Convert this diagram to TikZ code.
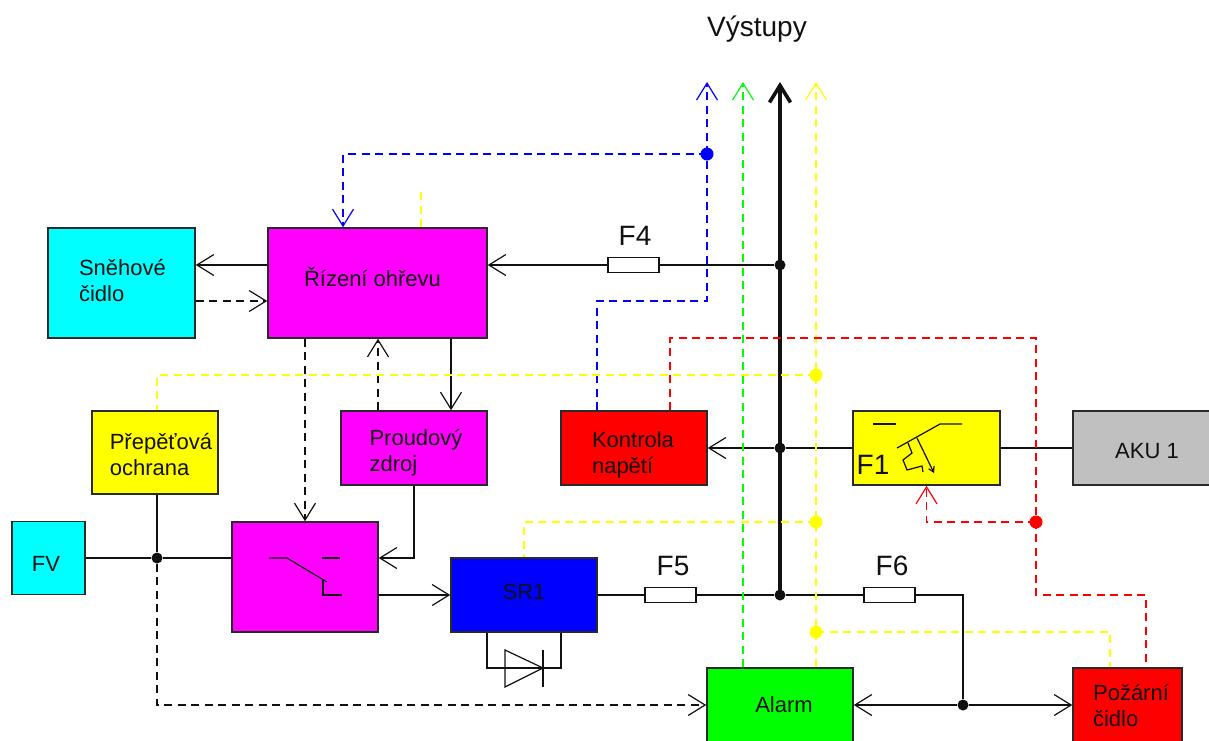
\documentclass[tikz,border=0pt]{standalone}
\usepackage{fontspec}
\setmainfont{Liberation Sans}
\usetikzlibrary{arrows.meta}
\definecolor{ink}{HTML}{111111}
\definecolor{edgeC}{HTML}{2A2A2A}
\definecolor{cyanC}{HTML}{00FFFF}
\definecolor{magC}{HTML}{FF00FF}
\definecolor{yelC}{HTML}{FFFF00}
\definecolor{redC}{HTML}{FF0000}
\definecolor{bluC}{HTML}{0000FF}
\definecolor{grnC}{HTML}{00FF00}
\definecolor{akuC}{HTML}{C0C0C0}
\tikzset{
  >={Straight Barb[length=17pt,width=21pt]},
  block/.style={draw=edgeC,line width=1.5pt,inner sep=0pt},
  blab/.style={font=\fontsize{22}{26}\selectfont,text=ink,align=left,inner sep=0pt},
  fuse/.style={draw=ink,line width=1.2pt,fill=white,minimum width=51pt,minimum height=15pt,inner sep=0pt},
  flab/.style={font=\fontsize{28}{32}\selectfont,text=ink},
  wire/.style={ink,line width=1.2pt},
  sig/.style={line width=1.2pt,dash pattern=on 8pt off 5.5pt},
  jdot/.style={circle,fill=ink,inner sep=0pt,minimum size=11pt},
  cdot/.style={circle,inner sep=0pt,minimum size=13pt},
}
\begin{document}
\begin{tikzpicture}[x=1pt,y=-1pt]
\useasboundingbox (0,0) rectangle (1209,740);

\node[flab] (Title) at (757,29) {Výstupy};

% ================= BLOCKS =================
\node[block,fill=cyanC,minimum width=147pt,minimum height=110pt] (Snow) at (121.5,283) {};
\node[block,fill=magC,minimum width=219pt,minimum height=110pt] (Ctrl) at (377.5,283) {};
\node[block,fill=yelC,minimum width=126pt,minimum height=83pt] (Surge) at (155,452.5) {};
\node[block,fill=magC,minimum width=146pt,minimum height=74pt] (Src) at (414,448) {};
\node[block,fill=redC,minimum width=146pt,minimum height=74pt] (Volt) at (634,448) {};
\node[block,fill=yelC,minimum width=147pt,minimum height=74pt] (Brk) at (926.5,448) {};
\node[block,fill=akuC,minimum width=148pt,minimum height=74pt] (Aku) at (1147,448) {};
\node[block,fill=cyanC,minimum width=73pt,minimum height=73pt] (Pv) at (48.5,558) {};
\node[block,fill=magC,minimum width=146pt,minimum height=110pt] (Sw) at (305,577) {};
\node[block,fill=bluC,minimum width=146pt,minimum height=74pt] (Sr) at (524,595) {};
\node[block,fill=grnC,minimum width=146pt,minimum height=74pt] (Alarm) at (780,705) {};
\node[block,fill=redC,minimum width=109pt,minimum height=74pt] (Fire) at (1127.5,705) {};

\node[blab] (SnowL) at (122.5,280) {Sněhové\\čidlo};
\node[blab] (CtrlL) at (372.5,277) {Řízení ohřevu};
\node[blab] (SurgeL) at (161,454) {Přepěťová\\ochrana};
\node[blab] (SrcL) at (416,453) {Proudový\\zdroj};
\node[blab] (VoltL) at (633,455) {Kontrola\\napětí};
\node[flab] (BrkL) at (873,465) {F1};
\node[blab] (AkuL) at (1147,451) {AKU 1};
\node[blab] (PvL) at (46,564) {FV};
\node[blab] (SrL) at (524,592) {SR1};
\node[blab] (AlarmL) at (784,705) {Alarm};
\node[blab] (FireL) at (1131,705) {Požární\\čidlo};

% ================= FUSES =================
\node[fuse] (F4) at (633.5,265) {};
\node[fuse] (F5) at (670.5,595) {};
\node[fuse] (F6) at (889.5,595) {};
\node[flab] (F4l) at (635,236) {F4};
\node[flab] (F5l) at (673,566) {F5};
\node[flab] (F6l) at (892,566) {F6};

% ================= JUNCTIONS =================
\node[jdot] (J1) at (780,265) {};
\node[jdot] (J2) at (780,448) {};
\node[jdot] (J3) at (780,595) {};
\node[jdot] (Jpv) at (157,558) {};
\node[jdot] (Jbot) at (963,705) {};
\node[cdot,fill=yelC] (Jy1) at (816,375) {};
\node[cdot,fill=yelC] (Jy2) at (816,522) {};
\node[cdot,fill=yelC] (Jy3) at (816,632) {};
\node[cdot,fill=bluC] (Jblu) at (707,154) {};
\node[cdot,fill=redC] (Jred) at (1036,522) {};
\coordinate (outB) at (707,82);
\coordinate (outG) at (743,82);
\coordinate (outK) at (780,82);
\coordinate (outY) at (816,82);
\coordinate (tapB) at (707,301);
\coordinate (tapR) at (1036,338);
\coordinate (tapS) at (1036,595);
\coordinate (stubY) at (421,190);

% ================= POWER =================
\draw[->,ink,line width=3.6pt] (J3.center) -- (outK);
\draw[wire] (J1) -- (F4.east);
\draw[wire,->] (F4.west) -- ([yshift=18]Ctrl.east);
\draw[wire,->] ([yshift=18]Ctrl.west) -- ([yshift=18]Snow.east);
\draw[wire,->] ([xshift=73.5]Ctrl.south) -- ([xshift=37]Src.north);
\draw[wire,->] (Src.south) |- ([yshift=19]Sw.east);
\draw[wire] (Pv.east) -- (Jpv) -- ([yshift=19]Sw.west);
\draw[wire] (Surge.south -| Jpv) -- (Jpv);
\draw[wire,->] ([yshift=-18]Sw.east) -- (Sr.west);
\draw[wire] (Sr.east) -- (F5.west);
\draw[wire] (F5.east) -- (J3);
\draw[wire] (J3) -- (F6.west);
\draw[wire] (F6.east) -| (Jbot);
\draw[wire,->] (Jbot) -- (Alarm.east);
\draw[wire,->] (Jbot) -- (Fire.west);
\draw[wire,->] (J2) -- (Volt.east);
\draw[wire] (J2) -- (Brk.west);
\draw[wire] (Brk.east) -- (Aku.west);

% ================= SIGNALS =================
\draw[sig,ink,->] ([yshift=-18]Snow.east) -- ([yshift=-18]Ctrl.west);
\draw[sig,ink,->] ([xshift=-36]Src.north) -- ([xshift=0.5]Ctrl.south);
\draw[sig,ink,->] ([xshift=-72.5]Ctrl.south) -- (Sw.north);
\draw[sig,ink,->] (Jpv) |- (Alarm.west);
\draw[sig,bluC,->] (Jblu.center) -- (outB);
\draw[sig,bluC,->] (Jblu.center) -| ([xshift=-34.5]Ctrl.north);
\draw[sig,bluC] ([xshift=-37]Volt.north) |- (tapB) -- (Jblu.center);
\draw[sig,grnC,->] ([xshift=-37]Alarm.north) -- (outG);
\draw[sig,yelC,->] ([xshift=36]Alarm.north) -- (outY);
\draw[sig,yelC] ([xshift=43.5]Ctrl.north) -- (stubY);
\draw[sig,yelC] (Jy1.center) -| ([xshift=2]Surge.north);
\draw[sig,yelC] (Jy2.center) -| (Sr.north);
\draw[sig,yelC] (Jy3.center) -| ([xshift=-17.5]Fire.north);
\draw[sig,redC] ([xshift=36]Volt.north) |- (tapR) -- (tapS) -| ([xshift=18.5]Fire.north);
\draw[sig,redC,->] (Jred.center) -| (Brk.south);

% ================= SYMBOLS =================
\draw[wire] (269,558) -- (287,558) -- (327,582);
\draw[wire] (322,558) -- (340,558);
\draw[wire] (323,580) -- (323,595) -- (342,595);
\draw[wire] (873,424) -- (896,424);
\draw[wire] (897,448) -- (940,424) -- (962,424);
\draw[wire,-{Straight Barb[length=5pt,width=6pt]}] (917,438) -- (934,473);
\draw[wire] (908,443) -- (912,453) -- (903,460) -- (907,470) -- (922,466) -- (923,472);
\draw[wire] ([xshift=-37]Sr.south) |- (543,668) -| ([xshift=37]Sr.south);
\draw[wire] (505,650) -- (505,687) -- (543,668) -- cycle;
\draw[wire] (543,650) -- (543,687);

\end{tikzpicture}
\end{document}
